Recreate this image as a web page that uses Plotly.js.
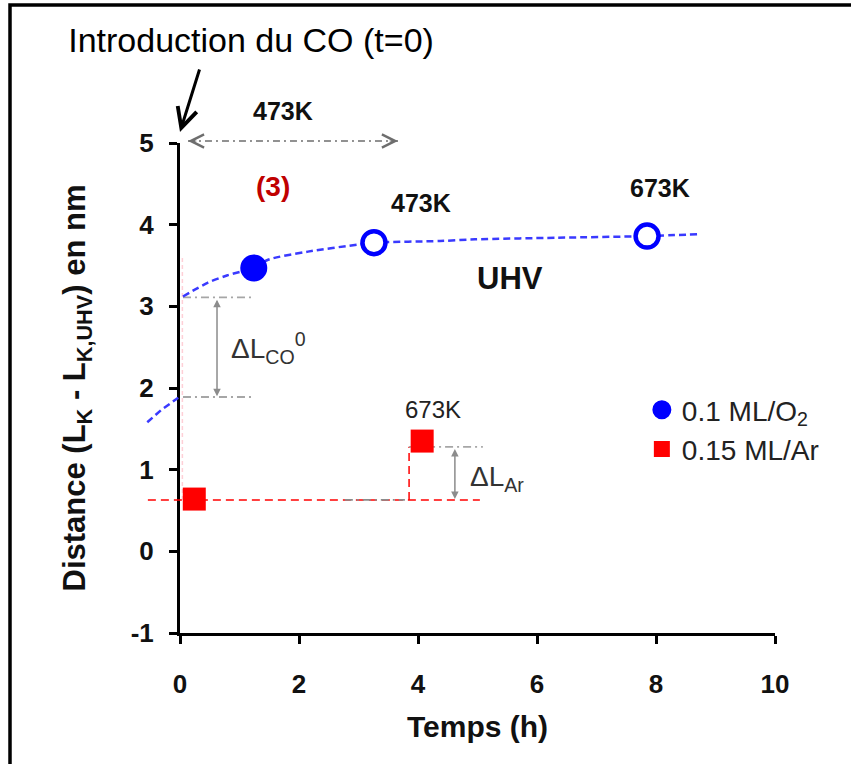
<!DOCTYPE html>
<html><head><meta charset="utf-8">
<script src="https://cdn.plot.ly/plotly-3.0.1.min.js"></script>
<style>html,body{margin:0;padding:0;background:#fff}#chart{width:851px;height:764px}</style>
</head><body><div id="chart"></div>
<script>
// ---- Data (time in hours, distance in nm) ----
const o2Name = '0.1 ML/O<sub>2</sub>';
const arName = '0.15 ML/Ar';
const o2Time = [1.24, 3.26, 7.85];
const o2Dist = [3.47, 3.78, 3.86];
const arTime = [0.24, 4.07];
const arDist = [0.64, 1.35];
// dashed fit curve after CO introduction
const fitTime = [0.05, 0.47, 0.8, 1.24, 1.48, 2.15, 3.03, 3.26, 4.37, 4.96, 6.34, 7.85, 8.74];
const fitDist = [3.12, 3.29, 3.38, 3.47, 3.57, 3.67, 3.76, 3.78, 3.80, 3.82, 3.84, 3.86, 3.885];
// dashed fit curve before CO introduction
const preTime = [-0.55, -0.3, -0.03];
const preDist = [1.58, 1.74, 1.88];
// guide levels
const coMarkTime = [0.04, 0.04];
const coMark = [0.63, 3.6];
const coGuideTime = [0.05, 1.2];
const coTop = [3.11, 3.11];
const coBottom = [1.89, 1.89];
const arBaseTime = [-0.54, 5.04];
const arBase = [0.63, 0.63];
const arStepTime = [3.85, 3.85];
const arStep = [0.63, 1.28];
const arTopTime = [3.85, 5.09];
const arTop = [1.28, 1.28];
const arGreyTime = [2.77, 3.78];
const heatTime = [0.134, 3.664];
const heatLevel = [5.024, 5.024];
const xTicks = [0, 2, 4, 6, 8, 10];
const xTickText = ['0', '2', '4', '6', '8', '10'];
const yTicks = [-1, 0, 1, 2, 3, 4, 5];
const yTickText = ['-1', '0', '1', '2', '3', '4', '5'];

const FONT = 'Liberation Sans, Arial, sans-serif';
const BLUE = '#0000FF', RED = '#FF0000', GREY = '#A6A6A6';

function guide(x, y, color, dash, width, ax) {
  return {x, y, xaxis: ax ? 'x' : 'x2', yaxis: ax ? 'y' : 'y2', mode: 'lines', showlegend: false,
          hoverinfo: 'skip', line: {color, dash, width}};
}

const traces = [
  // faint marker of t=0 on the main axes
  guide(coMarkTime, coMark, 'rgba(255,120,140,0.35)', '4px,3px', 1.5, true),
  guide(heatTime, heatLevel, '#6e6e6e', '7px,4px,2px,4px', 1.5),
  guide(coGuideTime, coTop, GREY, '8px,4px,2px,4px', 1.8),
  guide(coGuideTime, coBottom, GREY, '8px,4px,2px,4px', 1.8),
  guide(arBaseTime, arBase, RED, '8px,5px', 1.5),
  guide(arStepTime, arStep, RED, '8px,5px', 1.5),
  guide(arGreyTime, arBase, '#8c8c8c', '8px,4px,2px,4px', 1.8),
  guide(arTopTime, arTop, GREY, '8px,4px,2px,4px', 1.8),
  {x: preTime, y: preDist, xaxis: 'x2', yaxis: 'y2', mode: 'lines', showlegend: false, hoverinfo: 'skip',
   line: {color: '#3a3aff', dash: '7px,4px', width: 2.5}},
  {x: fitTime, y: fitDist, xaxis: 'x2', yaxis: 'y2', mode: 'lines', showlegend: false, hoverinfo: 'skip',
   line: {color: '#3a3aff', dash: '7px,4px', width: 2.5, shape: 'spline', smoothing: 0.8}},
  {x: o2Time, y: o2Dist, name: o2Name, xaxis: 'x2', yaxis: 'y2', mode: 'markers',
   marker: {symbol: 'circle', opacity: 1, size: [27, 23, 23], color: [BLUE, '#FFFFFF', '#FFFFFF'],
            line: {color: BLUE, width: [0, 4.5, 4.5]}}},
  {x: arTime, y: arDist, name: arName, xaxis: 'x2', yaxis: 'y2', mode: 'markers',
   marker: {symbol: 'square', opacity: 1, size: 23, color: RED, line: {width: 0}}}
];

function txt(x, y, text, size, extra) {
  return Object.assign({xref: 'x2', yref: 'y2', x, y, text, showarrow: false,
    xanchor: 'center', yanchor: 'middle', font: {family: FONT, size, color: '#111'}}, extra || {});
}
function arrow(x, y, ax, ay, extra) {
  return Object.assign({xref: 'x2', yref: 'y2', axref: 'x2', ayref: 'y2', x, y, ax, ay, text: '',
    showarrow: true, arrowcolor: '#8c8c8c', arrowwidth: 1.5, arrowhead: 2, arrowsize: 1}, extra || {});
}

const annotations = [
  txt(1.731, 5.392, '<b>473K</b>', 25),
  txt(1.563, 4.473, '<b>(3)</b>', 28, {font: {family: FONT, size: 28, color: '#C00000'}}),
  txt(4.05, 4.265, '<b>473K</b>', 25),
  txt(8.067, 4.449, '<b>673K</b>', 25),
  txt(5.546, 3.335, '<b>UHV</b>', 31),
  txt(1.479, 2.49, 'ΔL<sub>CO</sub><sup>0</sup>', 28, {font: {family: FONT, size: 28, color: '#333'}}),
  txt(4.252, 1.731, '673K', 24, {font: {family: FONT, size: 24, color: '#222'}}),
  txt(5.328, 0.898, 'ΔL<sub>Ar</sub>', 28, {font: {family: FONT, size: 28, color: '#333'}}),
  // CO introduction arrow
  arrow(0, 5.135, 0.336, 5.918, {arrowcolor: '#000', arrowwidth: 3, arrowhead: 5, arrowsize: 1.3}),
  // 473K heating span heads
  arrow(0.134, 5.024, 0.30, 5.024, {arrowcolor: '#6e6e6e', arrowwidth: 1, arrowhead: 5, arrowsize: 2.6}),
  arrow(3.664, 5.024, 3.50, 5.024, {arrowcolor: '#6e6e6e', arrowwidth: 1, arrowhead: 5, arrowsize: 2.6}),
  // delta arrows
  arrow(0.622, 1.90, 0.622, 3.10, {arrowside: 'end+start'}),
  arrow(4.62, 0.64, 4.62, 1.27, {arrowside: 'end+start'})
];

const layout = {
  width: 851, height: 764, autosize: false,
  margin: {l: 138, r: 76, t: 20, b: 131, pad: 0},
  paper_bgcolor: '#FFFFFF', plot_bgcolor: 'rgba(0,0,0,0)',
  font: {family: FONT, color: '#111'},
  title: {text: 'Introduction du CO (t=0)', x: 0.295, xref: 'container', xanchor: 'center',
          y: 0.9476, yref: 'container', yanchor: 'middle',
          font: {family: FONT, size: 34, color: '#000'}},
  showlegend: true,
  legend: {x: 0.791, y: 0.4046, xanchor: 'left', yanchor: 'top', bgcolor: 'rgba(0,0,0,0)',
           font: {family: FONT, size: 28, color: '#222'}, tracegroupgap: 0},
  xaxis: {domain: [42 / 637, 1], range: [0, 10], anchor: 'y', tickmode: 'array', tickvals: xTicks,
          ticktext: xTickText,
          showline: true, linecolor: '#000', linewidth: 3, ticks: 'outside', ticklen: 8, tickwidth: 3,
          tickcolor: '#000', showgrid: false, zeroline: false, fixedrange: true,
          tickfont: {family: FONT, size: 26, color: '#111', weight: 'bold'}, ticklabelstandoff: 18,
          title: {text: '<b>Temps (h)</b>', standoff: 18, font: {family: FONT, size: 30, color: '#111'}}},
  yaxis: {domain: [0, 490 / 613], range: [-1, 5], anchor: 'x', tickmode: 'array', tickvals: yTicks,
          ticktext: yTickText,
          showline: true, linecolor: '#000', linewidth: 3, ticks: 'outside', ticklen: 8, tickwidth: 3,
          tickcolor: '#000', showgrid: false, zeroline: false, fixedrange: true,
          tickfont: {family: FONT, size: 26, color: '#111', weight: 'bold'}, ticklabelstandoff: 10,
          title: {text: '<b>Distance (L<sub>K</sub> - L<sub>K,UHV</sub>) en nm</b>', standoff: 36,
                  font: {family: FONT, size: 31, color: '#111'}}},
  xaxis2: {domain: [0, 1], range: [-42 / 59.5, 10], anchor: 'y2', visible: false, fixedrange: true},
  yaxis2: {domain: [0, 1], range: [-1, -1 + 613 / (490 / 6)], anchor: 'x2', visible: false, fixedrange: true},
  shapes: [
    {type: 'rect', xref: 'paper', yref: 'paper', x0: -128 / 637, x1: 722 / 637 + 0.02,
     y0: -150 / 613, y1: 628 / 613, line: {color: '#000', width: 3.5}, fillcolor: 'rgba(0,0,0,0)'}
  ],
  annotations
};

Plotly.newPlot('chart', traces, layout, {staticPlot: true, displayModeBar: false});
</script></body></html>
